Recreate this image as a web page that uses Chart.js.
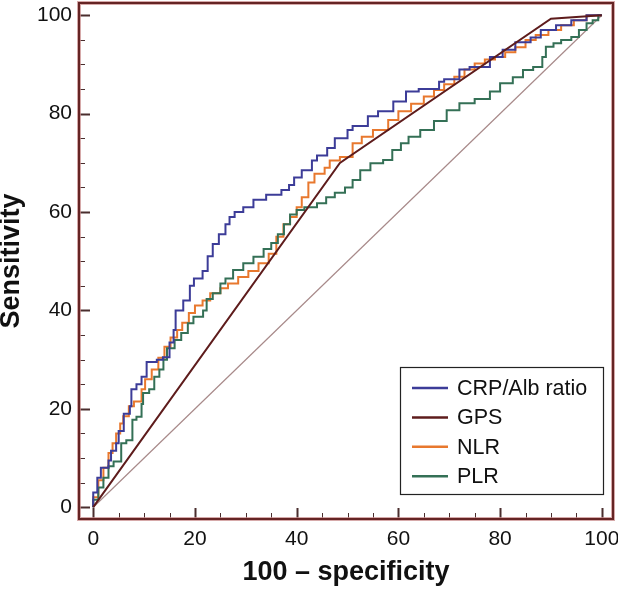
<!DOCTYPE html>
<html><head><meta charset="utf-8">
<script src="https://cdn.jsdelivr.net/npm/chart.js@4/dist/chart.umd.min.js"></script>
<style>html,body{margin:0;padding:0;background:#fff;}#wrap{width:618px;height:590px;}</style>
</head><body><div id="wrap"><canvas id="c" width="618" height="590"></canvas></div>
<script>
// ---- data ----
const tickValues = [0, 20, 40, 60, 80, 100];
const minorTickValues = [5, 10, 15, 25, 30, 35, 45, 50, 55, 65, 70, 75, 85, 90, 95];
const seriesLabels = ['CRP/Alb ratio', 'GPS', 'NLR', 'PLR'];

const crpX = [0, 0.8, 1.5, 3, 3.5, 4.5, 5, 6, 7.2, 7.5, 8.5, 9.5, 10.5, 12.5, 13.7, 15, 15.8, 16.2, 17.7, 19, 19.8, 21.5, 22.5, 23.5, 24.7, 26, 26.8, 27.8, 29.5, 31.5, 34, 37, 38.5, 39.5, 41, 43, 44, 46, 47.5, 50, 51, 54, 56, 59, 61.5, 64, 68, 69, 72, 74, 78, 80.5, 83, 86, 88, 91, 94, 97, 100];
const crpY = [0, 3, 6, 8, 9.5, 11.5, 13, 15.5, 19, 20.5, 24, 25, 26.5, 29.5, 30, 30.5, 33.5, 36, 40, 42, 45, 46.5, 48, 51, 53.5, 55.5, 57.5, 59, 60, 61, 62.5, 63.5, 64.5, 65.5, 67, 68.5, 70.5, 71.5, 73, 75, 76.7, 77.5, 79.5, 80.5, 82.5, 84.5, 85, 86.5, 87, 89, 89.5, 91.5, 93, 94.5, 95.5, 97, 98, 99, 100];

const gpsX = [0, 48.5, 90, 100];
const gpsY = [0, 70, 99.3, 100];

const nlrX = [0, 1, 2, 3, 3.8, 4.5, 5.3, 5.9, 7, 8, 9.5, 10.2, 11.5, 12.8, 14, 15.2, 16.5, 17.5, 18.8, 20, 21.5, 23, 25, 26.5, 28.5, 30.5, 32.5, 34.5, 36, 37.4, 38.7, 40, 41, 42.3, 43.5, 45.5, 46.5, 48.5, 51, 52.8, 55, 58, 60, 62.5, 65, 67, 69, 71, 73, 75, 77, 79, 81, 83, 85, 87, 89.5, 92, 94.5, 97, 100];
const nlrY = [0, 2, 5.5, 8, 11, 13, 15, 17, 18.5, 20.5, 21.5, 24, 26, 28, 30.4, 32.6, 34.5, 36, 37.5, 39.5, 41, 42, 43.5, 44.5, 45.5, 46.8, 48, 49.6, 51.5, 55, 57.5, 59, 61, 63, 66, 67.8, 69, 70.5, 71.2, 74, 75.3, 76.7, 78.7, 80.5, 82, 83.5, 84.8, 86, 87.5, 89, 90.2, 91, 91.5, 92.5, 93.5, 95, 96, 97, 98, 99, 100];

const plrX = [0, 1, 2, 3, 4, 5.5, 6.5, 7.7, 8.5, 9.5, 9.8, 11, 12, 13, 13.8, 14.5, 16, 17.3, 18.6, 19.7, 21.6, 22.3, 23.5, 25, 26, 27.5, 29.5, 31.5, 33.5, 35, 36.3, 37.5, 38.7, 40, 41.5, 44, 45.8, 47.5, 49.5, 51, 52.5, 54.5, 57, 58.8, 60.5, 62, 64.3, 67, 69.5, 72, 75, 78, 80, 82.5, 84.5, 86.5, 88.3, 89, 90.5, 92, 94, 95.5, 97, 98.2, 99.3, 100];
const plrY = [0, 1.5, 4, 6, 8.3, 9.3, 13, 13.6, 17.8, 18.4, 21, 23.2, 24, 26.5, 28, 30, 32.3, 34, 35.4, 37.4, 38.7, 40, 42.3, 43.5, 45.5, 46.5, 48.2, 49.6, 50.9, 52.5, 53.7, 55.5, 57.5, 59.5, 60.4, 61, 61.8, 63, 63.9, 65, 66.5, 68.5, 69.9, 70.6, 72.6, 74, 75.3, 76.7, 78.5, 80.7, 82.1, 83, 84.5, 86.2, 87.4, 88.9, 89.5, 91.5, 93.6, 94.3, 95, 95.6, 97, 98.4, 99, 100];

const diagX = [0, 100];
const diagY = [0, 100];

// ---- styles ----
const FONT = "'Liberation Sans', Arial, Helvetica, sans-serif";
const colors = { crp: '#3c3c98', gps: '#5e1c1c', nlr: '#e8782e', plr: '#347056', diag: '#a88a8a' };

const pts = (xs, ys) => xs.map((x, i) => ({ x: x, y: ys[i] }));

Chart.defaults.font.family = FONT;

const framePlugin = {
  id: 'frame',
  afterDatasetsDraw(chart) {
    const { ctx, chartArea: a, scales } = chart;
    const sx = scales.x, sy = scales.y;
    ctx.save();
    ctx.strokeStyle = '#4a2e2e';
    const drawTicks = (vals, len, w) => {
      ctx.lineWidth = w;
      ctx.beginPath();
      vals.forEach(v => {
        const px = Math.round(sx.getPixelForValue(v)) + 0.5;
        ctx.moveTo(px, a.bottom); ctx.lineTo(px, a.bottom - len);
        const py = Math.round(sy.getPixelForValue(v)) + 0.5;
        ctx.moveTo(a.left, py); ctx.lineTo(a.left + len, py);
      });
      ctx.stroke();
    };
    drawTicks(minorTickValues, 6, 1);
    drawTicks(tickValues, 11, 2);
    ctx.lineWidth = 4;
    ctx.strokeStyle = 'rgba(200,140,140,0.75)';
    ctx.strokeRect(a.left, a.top, a.right - a.left, a.bottom - a.top);
    ctx.lineWidth = 2;
    ctx.strokeStyle = '#652424';
    ctx.strokeRect(a.left, a.top, a.right - a.left, a.bottom - a.top);

    const bw = 203, bh = 127;
    const bx = a.right - 10 - bw, by = a.bottom - 25 - bh;
    ctx.fillStyle = '#ffffff';
    ctx.fillRect(bx, by, bw, bh);
    ctx.lineWidth = 1.2;
    ctx.strokeStyle = '#222';
    ctx.strokeRect(bx + 0.5, by + 0.5, bw, bh);
    ctx.font = '21.5px ' + FONT;
    ctx.textBaseline = 'middle';
    ctx.textAlign = 'left';
    seriesLabels.forEach((lab, i) => {
      const ds = chart.data.datasets.find(d => d.label === lab);
      const yy = by + 21 + i * 29.4;
      ctx.strokeStyle = ds.borderColor;
      ctx.lineWidth = 2.5;
      ctx.beginPath(); ctx.moveTo(bx + 12, yy); ctx.lineTo(bx + 48, yy); ctx.stroke();
      ctx.fillStyle = '#111';
      ctx.fillText(lab, bx + 57, yy + 1);
    });
    ctx.restore();
  }
};

new Chart(document.getElementById('c'), {
  type: 'line',
  data: {
    datasets: [
      { label: seriesLabels[1], data: pts(gpsX, gpsY), borderColor: colors.gps, borderWidth: 2, order: 1 },
      { label: seriesLabels[0], data: pts(crpX, crpY), borderColor: colors.crp, borderWidth: 2, stepped: 'after', order: 2 },
      { label: seriesLabels[3], data: pts(plrX, plrY), borderColor: colors.plr, borderWidth: 2, stepped: 'after', order: 3 },
      { label: seriesLabels[2], data: pts(nlrX, nlrY), borderColor: colors.nlr, borderWidth: 2, stepped: 'after', order: 4 },
      { label: 'reference', data: pts(diagX, diagY), borderColor: colors.diag, borderWidth: 1.2, order: 5 }
    ]
  },
  options: {
    responsive: false,
    animation: false,
    elements: { point: { radius: 0 }, line: { tension: 0, fill: false } },
    layout: { padding: { top: 3, right: 5, bottom: 0, left: 0 } },
    plugins: { legend: { display: false }, tooltip: { enabled: false } },
    scales: {
      x: {
        type: 'linear', min: -2.8, max: 102.2,
        afterBuildTicks: s => { s.ticks = tickValues.map(v => ({ value: v })); },
        afterFit: s => { s.height = 71; s.paddingLeft = 0; s.paddingRight = 0; },
        grid: { display: false, drawTicks: false },
        border: { display: false },
        ticks: { font: { size: 21 }, color: '#111', padding: 8, maxRotation: 0, autoSkip: false },
        title: { display: true, text: '100 – specificity', color: '#111', font: { size: 27, weight: 'bold' }, padding: { top: 0, bottom: 1 } }
      },
      y: {
        type: 'linear', min: -2.4, max: 102.5,
        afterBuildTicks: s => { s.ticks = tickValues.map(v => ({ value: v })); },
        afterFit: s => { s.width = 79; s.paddingTop = 0; s.paddingBottom = 0; },
        grid: { display: false, drawTicks: false },
        border: { display: false },
        ticks: { font: { size: 21 }, color: '#111', padding: 7, autoSkip: false },
        title: { display: true, text: 'Sensitivity', color: '#111', font: { size: 27, weight: 'bold', lineHeight: 0.86 }, padding: 0 }
      }
    }
  },
  plugins: [framePlugin]
});
</script>
</body></html>
